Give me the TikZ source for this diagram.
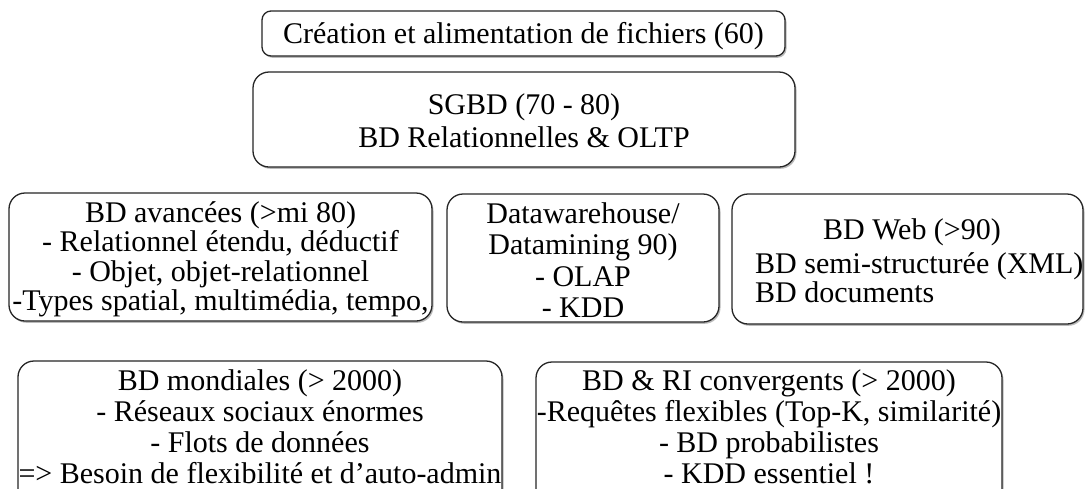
\documentclass[tikz,border=0pt]{standalone}
\usepackage{fontspec}
\setmainfont{Liberation Serif}
\usetikzlibrary{shadows}

\tikzset{
  panel/.style={draw=black!85, line width=1.3pt, fill=white, inner sep=0pt,
    rounded corners=16pt,
    drop shadow={shadow xshift=1.5pt, shadow yshift=-1.8pt, fill=black!45, opacity=.6}},
  caption/.style={align=center, inner sep=0pt, font=\fontsize{30}{30}\selectfont},
  leftcaption/.style={caption, align=left, anchor=west}
}

\begin{document}
\begin{tikzpicture}[x=1pt, y=-1pt]
  \useasboundingbox (0,0) rectangle (1085,488);
  \fill[white] (0,0) rectangle (1085,488);

  % files era
  \node[panel, rounded corners=9pt, minimum width=523pt, minimum height=45pt] (files) at (523.5,33.5) {};
  \node[caption] (filest) at (523.5,36) {Création et alimentation de fichiers (60)};

  % DBMS era
  \node[panel, minimum width=542pt, minimum height=95pt] (sgbd) at (524,119.5) {};
  \node[caption, font=\fontsize{30}{33}\selectfont] (sgbdt) at (524,121)
    {SGBD (70 - 80)\\BD Relationnelles \& OLTP};

  % advanced databases
  \node[panel, minimum width=423pt, minimum height=128pt] (adv) at (220.5,257) {};
  \node[caption, font=\fontsize{30}{29.5}\selectfont] (advt) at (220.5,259.5)
    {BD avancées (>mi 80)\\- Relationnel étendu, déductif\\- Objet, objet-relationnel\\-Types spatial, multimédia, tempo,};

  % data warehouse / data mining
  \node[panel, minimum width=272pt, minimum height=128pt] (dw) at (583,258) {};
  \node[caption, font=\fontsize{30}{31.3}\selectfont] (dwt) at (583,260)
    {Datawarehouse/\\Datamining 90)\\- OLAP\\- KDD};

  % web databases
  \node[panel, minimum width=351pt, minimum height=130pt] (web) at (907.5,259) {};
  \node[caption] (webt) at (912,232) {BD Web (>90)};
  \node[leftcaption, font=\fontsize{30}{29}\selectfont] (webl) at (755,277.5)
    {BD semi-structurée (XML)\\BD documents};

  % worldwide databases
  \node[panel, minimum width=484pt, minimum height=150pt] (world) at (260,436) {};
  \node[caption, font=\fontsize{30}{31}\selectfont] (worldt) at (260,426.5)
    {BD mondiales (> 2000)\\- Réseaux sociaux énormes\\- Flots de données\\=> Besoin de flexibilité et d’auto-admin};

  % DB & IR convergence
  \node[panel, minimum width=466pt, minimum height=150pt] (conv) at (769,437) {};
  \node[caption, font=\fontsize{30}{31}\selectfont] (convt) at (769,426.5)
    {BD \& RI convergents (> 2000)\\-Requêtes flexibles (Top-K, similarité)\\- BD probabilistes\\- KDD essentiel !};
\end{tikzpicture}
\end{document}
